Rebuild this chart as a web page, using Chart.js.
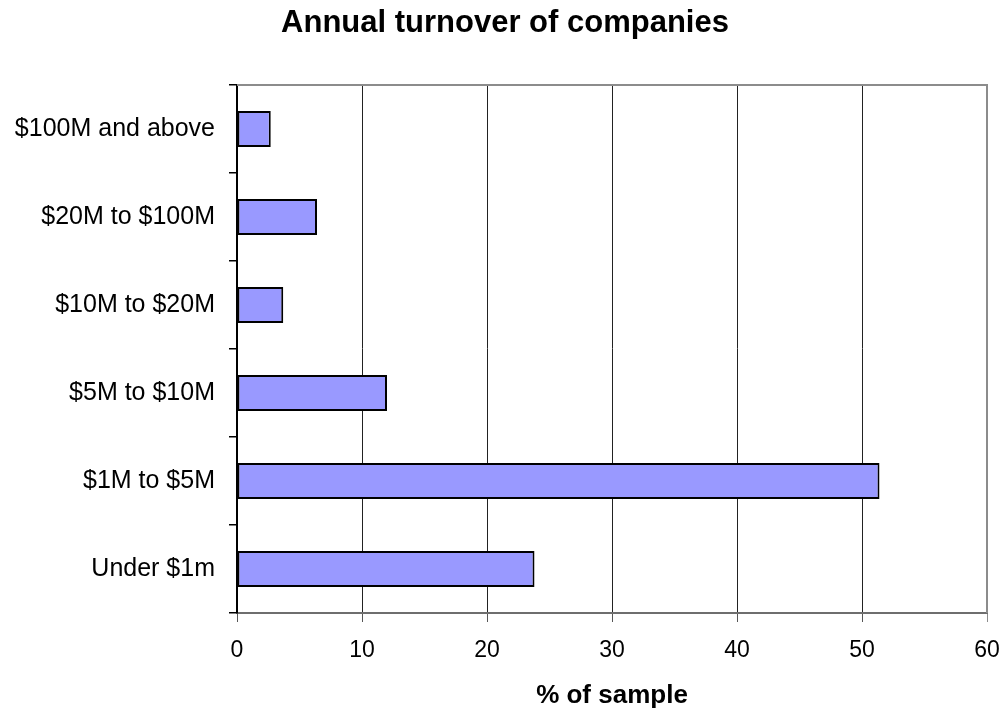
<!DOCTYPE html>
<html>
<head>
<meta charset="utf-8">
<title>Annual turnover of companies</title>
<script src="https://cdn.jsdelivr.net/npm/chart.js@4/dist/chart.umd.min.js"></script>
<style>
  html, body { margin: 0; padding: 0; background: #ffffff; }
  #wrap { width: 1006px; height: 713px; position: relative; }
</style>
</head>
<body>
<div id="wrap"><canvas id="chart" width="1006" height="713"></canvas></div>
<script>
// Turnover bands, listed bottom to top as they appear on the axis
const categories = ['Under $1m', '$1M to $5M', '$5M to $10M', '$10M to $20M', '$20M to $100M', '$100M and above'];
// Share of the sample in each band (%)
const shares = [23.8, 51.4, 12.0, 3.7, 6.4, 2.7];
const xTicks = [0, 10, 20, 30, 40, 50, 60];
const chartTitle = 'Annual turnover of companies';

const FONT = "'Liberation Sans', Arial, Helvetica, sans-serif";

// Grey frame along the top and right of the plot area
const framePlugin = {
  id: 'frame',
  afterDatasetsDraw(chart) {
    const { ctx, chartArea: a } = chart;
    ctx.save();
    ctx.strokeStyle = '#8c8c8c';
    ctx.lineWidth = 2;
    ctx.beginPath();
    ctx.moveTo(a.left, a.top);
    ctx.lineTo(a.right, a.top);
    ctx.lineTo(a.right, a.bottom);
    ctx.stroke();
    ctx.restore();
  }
};

// Heading, centred over the whole canvas
const headingPlugin = {
  id: 'heading',
  afterDraw(chart) {
    const { ctx, width } = chart;
    ctx.save();
    ctx.fillStyle = '#000';
    ctx.font = 'bold 31px ' + FONT;
    ctx.textAlign = 'center';
    ctx.textBaseline = 'alphabetic';
    ctx.fillText(chartTitle, width / 2 + 2, 32);
    ctx.restore();
  }
};

new Chart(document.getElementById('chart'), {
  type: 'bar',
  data: {
    labels: categories,
    datasets: [{
      data: shares,
      backgroundColor: '#9999ff',
      borderColor: '#000000',
      borderWidth: 2,
      borderSkipped: false,
      categoryPercentage: 1,
      barPercentage: 0.41
    }]
  },
  options: {
    indexAxis: 'y',
    responsive: false,
    animation: false,
    layout: { padding: { left: 0, right: 19, top: 85, bottom: 0 } },
    plugins: {
      legend: { display: false },
      tooltip: { enabled: false },
      title: { display: false }
    },
    scales: {
      x: {
        type: 'linear',
        min: 0,
        max: 60,
        afterFit(scale) {
          scale.height = 100;
          scale.paddingLeft = 0;
          scale.paddingRight = 0;
        },
        afterBuildTicks(scale) { scale.ticks = xTicks.map(v => ({ value: v })); },
        ticks: {
          color: '#000',
          font: { family: FONT, size: 23 },
          padding: 15,
          maxRotation: 0
        },
        grid: {
          color(ctx) {
            const v = ctx.tick && ctx.tick.value;
            if (v === 0) return 'rgba(0,0,0,0)';
            if (v === 60) return '#8c8c8c';
            return '#222';
          },
          lineWidth: 1,
          tickLength: 9,
          tickColor(ctx) {
            const v = ctx.tick && ctx.tick.value;
            return v === 60 ? '#8c8c8c' : '#555';
          }
        },
        border: { display: true, color: '#6e6e6e', width: 2 },
        title: {
          display: true,
          text: '% of sample',
          color: '#000',
          font: { family: FONT, size: 26, weight: 'bold', lineHeight: 1.2 },
          padding: { top: 0, bottom: 2 }
        }
      },
      y: {
        reverse: true,
        afterFit(scale) { scale.width = 237; },
        ticks: {
          color: '#000',
          font: { family: FONT, size: 25 },
          padding: 14
        },
        grid: {
          offset: true,
          drawOnChartArea: false,
          drawTicks: true,
          tickLength: 8,
          color: '#000',
          lineWidth: 1.5
        },
        border: { display: true, color: '#000', width: 2 }
      }
    }
  },
  plugins: [framePlugin, headingPlugin]
});
</script>
</body>
</html>
